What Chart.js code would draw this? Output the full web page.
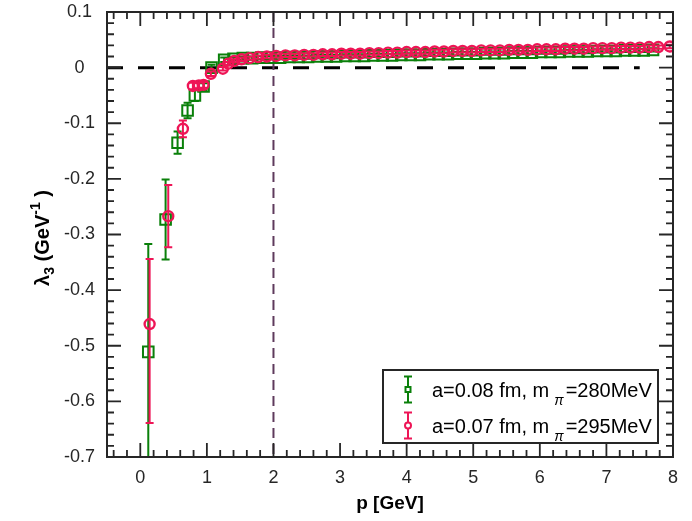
<!DOCTYPE html>
<html>
<head>
<meta charset="utf-8">
<script src="https://cdn.jsdelivr.net/npm/chart.js@4.4.1/dist/chart.umd.min.js"></script>
<style>
  html, body { margin: 0; padding: 0; background: #fff; }
  #wrap { width: 692px; height: 521px; }
</style>
</head>
<body>
<div id="wrap"><canvas id="lambdaChart" width="692" height="521"></canvas></div>
<script>
// Datos: lambda_3 contra p, dos espaciados de red

// a = 0.08 fm, m_pi = 280 MeV (cuadrados verdes)
const greenP = [0.12, 0.38, 0.56, 0.71, 0.82, 0.95, 1.07, 1.26, 1.40, 1.54, 1.68, 1.82, 1.96, 2.10, 2.24, 2.38,
  2.52, 2.66, 2.80, 2.94, 3.08, 3.22, 3.36, 3.50, 3.64, 3.78, 3.92, 4.06, 4.20, 4.34, 4.48, 4.62, 4.76, 4.90,
  5.04, 5.18, 5.32, 5.46, 5.60, 5.74, 5.88, 6.02, 6.16, 6.30, 6.44, 6.58, 6.72, 6.86, 7.00, 7.14, 7.28, 7.42,
  7.56, 7.70];
const greenVal = [-0.511, -0.273, -0.135, -0.077, -0.050, -0.034, 0.000, 0.014, 0.016, 0.017, 0.017, 0.018, 0.018,
  0.018, 0.019, 0.019, 0.019, 0.020, 0.020, 0.020, 0.021, 0.021, 0.021, 0.022, 0.022, 0.022, 0.023, 0.023, 0.023,
  0.024, 0.024, 0.024, 0.025, 0.025, 0.025, 0.026, 0.026, 0.026, 0.027, 0.027, 0.027, 0.028, 0.028, 0.028, 0.029,
  0.029, 0.029, 0.030, 0.030, 0.030, 0.031, 0.031, 0.031, 0.032];
const greenErrUp = [0.194, 0.072, 0.020, 0.014, 0.010, 0.006, 0.005, 0.004, 0.003, 0.003, 0.003, 0.003, 0.003,
  0.003, 0.003, 0.003, 0.003, 0.003, 0.003, 0.003, 0.003, 0.003, 0.003, 0.003, 0.003, 0.003, 0.003, 0.003, 0.003,
  0.003, 0.003, 0.003, 0.003, 0.003, 0.003, 0.003, 0.003, 0.003, 0.003, 0.003, 0.003, 0.003, 0.003, 0.003, 0.003,
  0.003, 0.003, 0.003, 0.003, 0.003, 0.003, 0.003, 0.003, 0.003];
const greenErrDown = greenErrUp;

// a = 0.07 fm, m_pi = 295 MeV (circulos rojos)
const redP = [0.14, 0.42, 0.64, 0.79, 0.88, 0.95, 1.06, 1.24, 1.32, 1.41, 1.52, 1.64, 1.77, 1.90, 2.04, 2.18,
  2.32, 2.46, 2.60, 2.74, 2.88, 3.02, 3.16, 3.30, 3.44, 3.58, 3.72, 3.86, 4.00, 4.14, 4.28, 4.42, 4.56, 4.70,
  4.84, 4.98, 5.12, 5.26, 5.40, 5.54, 5.68, 5.82, 5.96, 6.10, 6.24, 6.38, 6.52, 6.66, 6.80, 6.94, 7.08, 7.22,
  7.36, 7.50, 7.64, 7.78, 7.95];
const redVal = [-0.461, -0.267, -0.110, -0.033, -0.032, -0.031, -0.011, -0.002, 0.007, 0.012, 0.015, 0.017, 0.019,
  0.020, 0.021, 0.022, 0.022, 0.023, 0.023, 0.024, 0.024, 0.025, 0.025, 0.025, 0.026, 0.026, 0.027, 0.027, 0.028,
  0.028, 0.028, 0.029, 0.029, 0.030, 0.030, 0.030, 0.031, 0.031, 0.031, 0.032, 0.032, 0.032, 0.033, 0.033, 0.033,
  0.034, 0.034, 0.034, 0.035, 0.035, 0.035, 0.036, 0.036, 0.036, 0.037, 0.037, 0.038];
const redErrUp = [0.117, 0.056, 0.015, 0.006, 0.005, 0.005, 0.004, 0.003, 0.003, 0.003, 0.003, 0.003, 0.003,
  0.003, 0.003, 0.003, 0.003, 0.003, 0.003, 0.003, 0.003, 0.003, 0.003, 0.003, 0.003, 0.003, 0.003, 0.003, 0.003,
  0.003, 0.003, 0.003, 0.003, 0.003, 0.003, 0.003, 0.003, 0.003, 0.003, 0.003, 0.003, 0.003, 0.003, 0.003, 0.003,
  0.003, 0.003, 0.003, 0.003, 0.003, 0.003, 0.003, 0.003, 0.003, 0.003, 0.003, 0.003];
const redErrDown = [0.178, 0.056, 0.015, 0.006, 0.005, 0.005, 0.004, 0.003, 0.003, 0.003, 0.003, 0.003, 0.003,
  0.003, 0.003, 0.003, 0.003, 0.003, 0.003, 0.003, 0.003, 0.003, 0.003, 0.003, 0.003, 0.003, 0.003, 0.003, 0.003,
  0.003, 0.003, 0.003, 0.003, 0.003, 0.003, 0.003, 0.003, 0.003, 0.003, 0.003, 0.003, 0.003, 0.003, 0.003, 0.003,
  0.003, 0.003, 0.003, 0.003, 0.003, 0.003, 0.003, 0.003, 0.003, 0.003, 0.003, 0.003];

// Ejes y lineas de referencia
const xRange = [-0.5, 8];
const yRange = [-0.7, 0.1];
const zeroLineX = [-0.5, 7.5];
const cutLineP = 2;

const legendLabels = [
  { pre: 'a=0.08 fm, m', sub: 'π', post: '=280MeV' },
  { pre: 'a=0.07 fm, m', sub: 'π', post: '=295MeV' }
];

const GREEN = '#0A800A';
const RED = '#EE1556';
const AXIS = '#262626';
const FONT = '"Liberation Sans", Arial, Helvetica, sans-serif';

function points(ps, vals, up, down) {
  return ps.map((p, i) => ({ x: p, y: vals[i], hi: vals[i] + up[i], lo: vals[i] - down[i] }));
}

// Barras de error, dibujadas justo antes de los marcadores de cada serie
const errorBars = {
  id: 'errorBars',
  beforeDatasetDraw(chart, args) {
    const ds = chart.data.datasets[args.index];
    const { ctx, chartArea: a, scales: { x, y } } = chart;
    ctx.save();
    ctx.beginPath();
    ctx.rect(a.left, a.top, a.right - a.left, a.bottom - a.top);
    ctx.clip();
    ctx.strokeStyle = ds.borderColor;
    ctx.lineWidth = 2;
    ds.data.forEach(pt => {
      const xp = x.getPixelForValue(pt.x);
      const top = y.getPixelForValue(pt.hi);
      const bot = y.getPixelForValue(pt.lo);
      ctx.beginPath();
      ctx.moveTo(xp, top); ctx.lineTo(xp, bot);
      ctx.moveTo(xp - 4, top); ctx.lineTo(xp + 4, top);
      ctx.moveTo(xp - 4, bot); ctx.lineTo(xp + 4, bot);
      ctx.stroke();
    });
    ctx.restore();
  }
};

// Lineas discontinuas: cero horizontal y corte vertical en p = 2
const refLines = {
  id: 'refLines',
  beforeDatasetsDraw(chart) {
    const { ctx, scales: { x, y } } = chart;
    ctx.save();
    ctx.strokeStyle = '#000';
    ctx.lineWidth = 3;
    ctx.setLineDash([16, 15]);
    ctx.beginPath();
    ctx.moveTo(x.getPixelForValue(zeroLineX[0]), y.getPixelForValue(0));
    ctx.lineTo(x.getPixelForValue(zeroLineX[1]), y.getPixelForValue(0));
    ctx.stroke();
    ctx.strokeStyle = '#5E3A5C';
    ctx.lineWidth = 2;
    ctx.setLineDash([10, 6]);
    ctx.beginPath();
    ctx.moveTo(x.getPixelForValue(cutLineP), y.getPixelForValue(yRange[1]));
    ctx.lineTo(x.getPixelForValue(cutLineP), y.getPixelForValue(yRange[0]));
    ctx.stroke();
    ctx.restore();
  }
};

// Marco tipo MATLAB con marcas hacia dentro en los cuatro lados
const frame = {
  id: 'frame',
  afterDatasetsDraw(chart) {
    const { ctx, chartArea: a, scales: { x, y } } = chart;
    ctx.save();
    ctx.strokeStyle = AXIS;
    ctx.lineWidth = 1.8;
    ctx.beginPath();
    for (let k = -2; k <= 40; k++) {
      const xp = x.getPixelForValue(k * 0.2);
      const len = k % 5 === 0 ? 14 : 7;
      ctx.moveTo(xp, a.bottom); ctx.lineTo(xp, a.bottom - len);
      ctx.moveTo(xp, a.top); ctx.lineTo(xp, a.top + len);
    }
    for (let k = -35; k <= 5; k++) {
      const yp = y.getPixelForValue(k * 0.02);
      const len = k % 5 === 0 ? 14 : 7;
      ctx.moveTo(a.left, yp); ctx.lineTo(a.left + len, yp);
      ctx.moveTo(a.right, yp); ctx.lineTo(a.right - len, yp);
    }
    ctx.stroke();
    ctx.lineWidth = 2;
    ctx.strokeRect(a.left, a.top, a.right - a.left, a.bottom - a.top);
    ctx.restore();
  }
};

// Etiquetas, titulos de ejes y leyenda
const texts = {
  id: 'texts',
  afterDraw(chart) {
    const { ctx, chartArea: a, scales: { x, y } } = chart;
    ctx.save();
    ctx.fillStyle = '#262626';
    ctx.font = '18px ' + FONT;
    ctx.textAlign = 'center';
    ctx.textBaseline = 'middle';
    x.ticks.forEach(t => ctx.fillText(String(Math.round(t.value)), x.getPixelForValue(t.value), a.bottom + 21));
    y.ticks.forEach(t => {
      const v = Math.round(t.value * 10) / 10;
      ctx.fillText(v === 0 ? '0' : v.toFixed(1), 79.5, y.getPixelForValue(t.value));
    });

    // titulo eje x
    ctx.fillStyle = '#000';
    ctx.font = 'bold 19px ' + FONT;
    ctx.fillText('p [GeV]', (a.left + a.right) / 2, 504);

    // titulo eje y: lambda_3 (GeV^-1)
    ctx.save();
    ctx.translate(42, 238);
    ctx.rotate(-Math.PI / 2);
    ctx.textAlign = 'left';
    ctx.textBaseline = 'alphabetic';
    const big = 'bold 20px ' + FONT, small = 'bold 14px ' + FONT;
    const parts = [['λ', big, 0], ['3', small, 5], [' (GeV', big, 0], ['-1', small, -9], [' )', big, 0]];
    let total = 0;
    parts.forEach(p => { ctx.font = p[1]; total += ctx.measureText(p[0]).width; });
    let cx = -total / 2;
    parts.forEach(p => { ctx.font = p[1]; ctx.fillText(p[0], cx, 7 + p[2]); cx += ctx.measureText(p[0]).width; });
    ctx.restore();

    // leyenda
    const box = { l: 383, t: 370, r: 658, b: 443 };
    ctx.fillStyle = '#fff';
    ctx.fillRect(box.l, box.t, box.r - box.l, box.b - box.t);
    ctx.strokeStyle = AXIS;
    ctx.lineWidth = 2;
    ctx.strokeRect(box.l, box.t, box.r - box.l, box.b - box.t);
    const rows = [389.5, 425.5];
    const colors = [GREEN, RED];
    rows.forEach((ry, i) => {
      ctx.strokeStyle = colors[i];
      ctx.lineWidth = 2;
      ctx.beginPath();
      ctx.moveTo(408, ry - 13); ctx.lineTo(408, ry + 13);
      ctx.moveTo(404, ry - 13); ctx.lineTo(412, ry - 13);
      ctx.moveTo(404, ry + 13); ctx.lineTo(412, ry + 13);
      ctx.stroke();
      ctx.beginPath();
      if (i === 0) ctx.rect(405.5, ry - 2.5, 5, 5);
      else ctx.arc(408, ry, 3, 0, Math.PI * 2);
      ctx.fillStyle = '#fff';
      ctx.fill();
      ctx.stroke();

      const lab = legendLabels[i];
      ctx.fillStyle = '#000';
      ctx.textAlign = 'left';
      ctx.textBaseline = 'alphabetic';
      ctx.font = '20px ' + FONT;
      let tx = 432;
      ctx.fillText(lab.pre, tx, ry + 7);
      tx += ctx.measureText(lab.pre).width + 5;
      ctx.font = 'italic 14px ' + FONT;
      ctx.fillText(lab.sub, tx, ry + 15);
      tx += ctx.measureText(lab.sub).width + 2;
      ctx.font = '20px ' + FONT;
      ctx.fillText(lab.post, tx, ry + 7);
    });
    ctx.restore();
  }
};

const lambdaChart = new Chart(document.getElementById('lambdaChart'), {
  type: 'scatter',
  data: {
    datasets: [
      {
        label: legendLabels[0].pre + legendLabels[0].sub + legendLabels[0].post,
        data: points(greenP, greenVal, greenErrUp, greenErrDown),
        pointStyle: 'rect',
        pointRadius: 7.5,
        borderColor: GREEN,
        backgroundColor: 'rgba(0,0,0,0)',
        borderWidth: 2,
        order: 2
      },
      {
        label: legendLabels[1].pre + legendLabels[1].sub + legendLabels[1].post,
        data: points(redP, redVal, redErrUp, redErrDown),
        pointStyle: 'circle',
        pointRadius: 5,
        borderColor: RED,
        backgroundColor: 'rgba(0,0,0,0)',
        borderWidth: 2.4,
        order: 1
      }
    ]
  },
  options: {
    responsive: false,
    animation: false,
    layout: { padding: { top: 12, right: 19, left: 0, bottom: 0 } },
    plugins: {
      legend: { display: false },
      tooltip: { enabled: false },
      title: { display: false }
    },
    scales: {
      x: {
        type: 'linear',
        min: xRange[0],
        max: xRange[1],
        ticks: { stepSize: 1, includeBounds: false, display: false },
        grid: { display: false },
        border: { display: false },
        afterFit: s => { s.height = 64; }
      },
      y: {
        type: 'linear',
        min: yRange[0],
        max: yRange[1],
        ticks: { stepSize: 0.1, includeBounds: false, display: false },
        grid: { display: false },
        border: { display: false },
        afterFit: s => { s.width = 107; }
      }
    }
  },
  plugins: [refLines, errorBars, frame, texts]
});
</script>
</body>
</html>
